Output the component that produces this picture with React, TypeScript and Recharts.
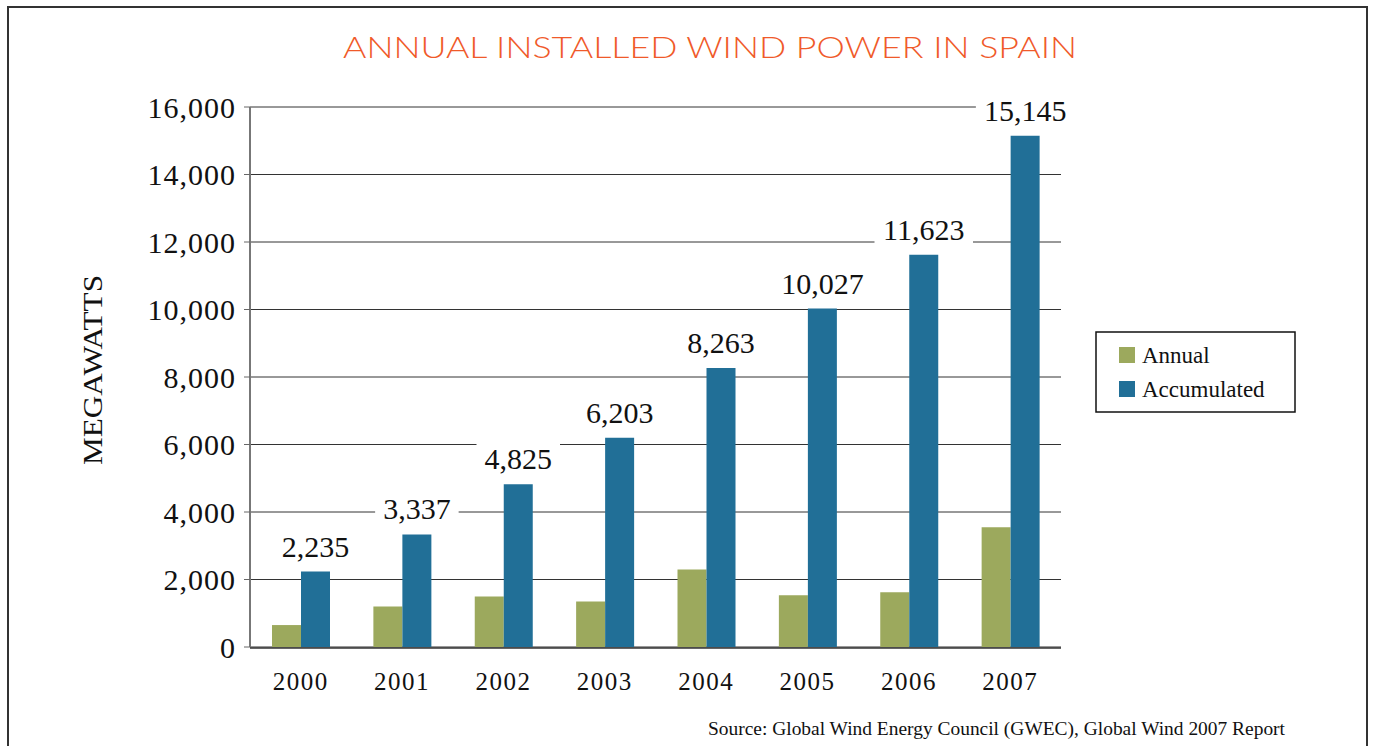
import React from "react";
import { BarChart, Bar, XAxis, YAxis, CartesianGrid, LabelList } from "recharts";

const years = ["2000", "2001", "2002", "2003", "2004", "2005", "2006", "2007"];
const annual = [650, 1200, 1500, 1350, 2300, 1530, 1620, 3550];
const accumulated = [2235, 3337, 4825, 6203, 8263, 10027, 11623, 15145];
const yTicks = [0, 2000, 4000, 6000, 8000, 10000, 12000, 14000, 16000];
const boundaryTicks = [0, 1, 2, 3, 4, 5, 6, 7, 8];
const seriesNames = ["Annual", "Accumulated"];
const seriesColors = ["#9CA95D", "#216F97"];

const data = years.map((y, i) => ({ year: y, annual: annual[i], accumulated: accumulated[i] }));

const SERIF = "'Liberation Serif', 'Times New Roman', serif";
const fmt = (v: number) => v.toLocaleString("en-US");

const ValueLabel = (props: any) => {
  const { x, y, width, value } = props;
  const s = fmt(Number(value));
  const fs = 30;
  let w = 0;
  for (const ch of s) w += ch === "," ? 0.25 * fs : 0.5 * fs;
  const cx = Number(x) + Number(width) / 2;
  const base = Number(y) - 15;
  return (
    <g>
      <rect x={cx - w / 2 - 8} y={base - 28} width={w + 16} height={36} fill="#fff" />
      <text x={cx} y={base} textAnchor="middle" fontSize={fs} fontFamily={SERIF} fill="#111">
        {s}
      </text>
    </g>
  );
};

export default function App() {
  return (
    <div style={{ position: "absolute", left: 0, top: 0, width: 1374, height: 746, background: "#fff", overflow: "hidden" }}>
      <div style={{ position: "absolute", left: 0, top: 0 }}>
        <BarChart
          width={1374}
          height={746}
          data={data}
          margin={{ top: 107, left: 190, right: 313, bottom: 97 }}
          barGap={0}
          barSize={29}
        >
          <CartesianGrid vertical={false} stroke="#333" strokeWidth={1} xAxisId="cat" />
          <XAxis
            xAxisId="grid"
            type="number"
            domain={[0, 8]}
            ticks={boundaryTicks}
            height={1}
            tick={false}
            tickSize={6}
            axisLine={{ stroke: "#333", strokeWidth: 1.5 }}
            tickLine={{ stroke: "#555", strokeWidth: 1.5 }}
          />
          <XAxis
            xAxisId="cat"
            dataKey="year"
            height={1}
            axisLine={false}
            tickLine={false}
            tickSize={0}
            tickMargin={25}
            interval={0}
            tick={{ fontSize: 25, fontFamily: SERIF, fill: "#111", letterSpacing: 1.5 }}
          />
          <YAxis
            width={60}
            domain={[0, 16000]}
            ticks={yTicks}
            interval={0}
            tickFormatter={fmt}
            axisLine={{ stroke: "#777", strokeWidth: 2 }}
            tickLine={{ stroke: "#666" }}
            tickSize={6}
            tickMargin={8}
            tick={{ fontSize: 30, fontFamily: SERIF, fill: "#111", letterSpacing: 1 }}
          />
          <Bar xAxisId="cat" dataKey="annual" name={seriesNames[0]} fill={seriesColors[0]} isAnimationActive={false} />
          <Bar xAxisId="cat" dataKey="accumulated" name={seriesNames[1]} fill={seriesColors[1]} isAnimationActive={false}>
            <LabelList dataKey="accumulated" content={ValueLabel} />
          </Bar>
        </BarChart>
      </div>
      <svg width={1374} height={746} style={{ position: "absolute", left: 0, top: 0, pointerEvents: "none" }}>
        <line x1={7} y1={7} x2={1368} y2={7} stroke="#333" strokeWidth={2} />
        <line x1={8} y1={6} x2={8} y2={746} stroke="#333" strokeWidth={2} />
        <line x1={1367} y1={6} x2={1367} y2={746} stroke="#333" strokeWidth={2} />
        <text
          x={710}
          y={58}
          textAnchor="middle"
          fontSize={29}
          fontWeight={300}
          fontFamily="Lato, 'DejaVu Sans', sans-serif"
          fill="#F05A2A"
          textLength={734}
          lengthAdjust="spacingAndGlyphs"
        >
          ANNUAL INSTALLED WIND POWER IN SPAIN
        </text>
        <text
          x={0}
          y={0}
          transform="translate(102 370) rotate(-90)"
          textAnchor="middle"
          fontSize={28}
          fontFamily={SERIF}
          fill="#111"
          textLength={190}
          lengthAdjust="spacingAndGlyphs"
        >
          MEGAWATTS
        </text>
        <text
          x={708}
          y={735}
          fontSize={19}
          fontFamily={SERIF}
          fill="#111"
          textLength={577}
          lengthAdjust="spacingAndGlyphs"
        >
          Source: Global Wind Energy Council (GWEC), Global Wind 2007 Report
        </text>
        <rect x={1096} y={332} width={199} height={80} fill="#fff" stroke="#111" strokeWidth={1.5} />
        {seriesNames.map((n, i) => (
          <g key={n}>
            <rect x={1119} y={347 + i * 34} width={16} height={16} fill={seriesColors[i]} />
            <text x={1142} y={363 + i * 34} fontSize={23} fontFamily={SERIF} fill="#111">
              {n}
            </text>
          </g>
        ))}
      </svg>
    </div>
  );
}
